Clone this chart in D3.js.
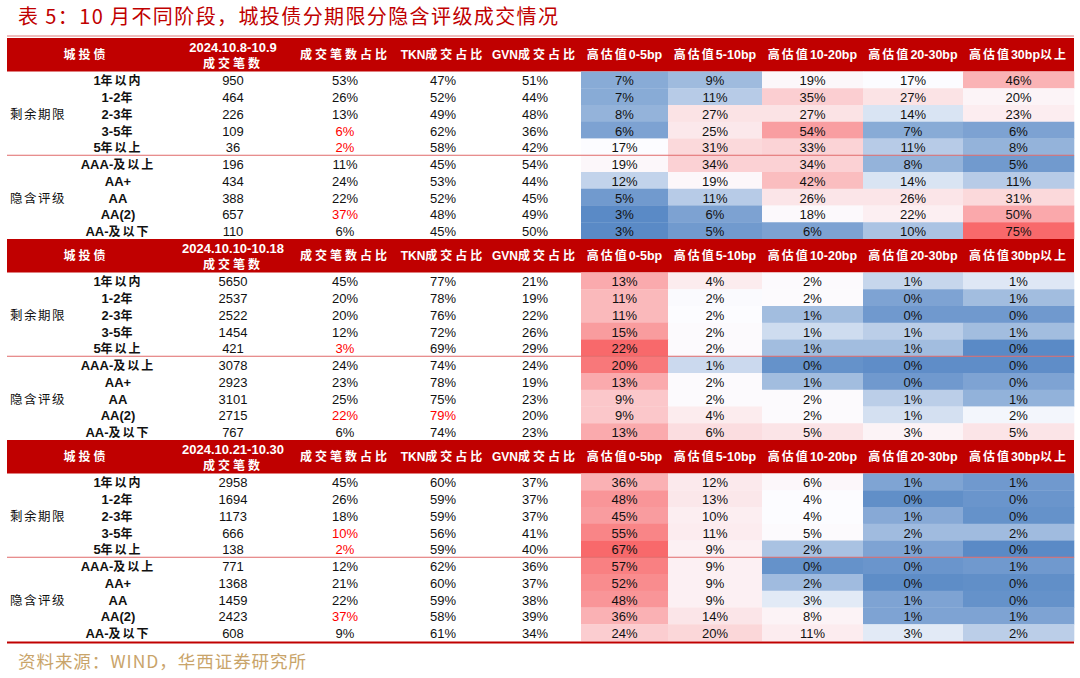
<!DOCTYPE html>
<html><head><meta charset="utf-8">
<script src="https://cdn.jsdelivr.net/npm/d3@7"></script>
<style>body{margin:0;background:#fff}</style>
</head><body><svg id="c" width="1080" height="678"></svg>
<script>
// ---------- DATA ----------
const title = "表 5：10 月不同阶段，城投债分期限分隐含评级成交情况";
const source = "资料来源：WIND，华西证券研究所";
const periods = ["2024.10.8-10.9", "2024.10.10-10.18", "2024.10.21-10.30"];
const groups = ["剩余期限", "隐含评级"];
const rowLabels = ["1年以内", "1-2年", "2-3年", "3-5年", "5年以上", "AAA-及以上", "AA+", "AA", "AA(2)", "AA-及以下"];
const plainHeaders = ["城投债", "成交笔数", "成交笔数占比", "TKN成交占比", "GVN成交占比"];
const heatHeaders = ["高估值0-5bp", "高估值5-10bp", "高估值10-20bp", "高估值20-30bp", "高估值30bp以上"];

const counts1 = [950, 464, 226, 109, 36, 196, 434, 388, 657, 110];
const share1 = [53, 26, 13, 6, 2, 11, 24, 22, 37, 6];
const tkn1 = [47, 52, 49, 62, 58, 45, 53, 52, 48, 45];
const gvn1 = [51, 44, 48, 36, 42, 54, 44, 45, 49, 50];
// heat values in % (unrounded where the cell shade shows the value more precisely)
const heat1 = [
  [7, 9, 19, 17, 46], [7, 11, 35, 27, 20], [8, 27, 27, 14, 23], [6, 25, 54, 7, 6], [17, 31, 33, 11, 8],
  [19, 34, 34, 8, 5], [12, 19, 42, 14, 11], [5, 11, 26, 26, 31], [3, 6, 18, 22, 50], [3, 5, 6, 10, 75]
];
const counts2 = [5650, 2537, 2522, 1454, 421, 3078, 2923, 3101, 2715, 767];
const share2 = [45, 20, 20, 12, 3, 24, 23, 25, 22, 6];
const tkn2 = [77, 78, 76, 72, 69, 74, 78, 75, 79, 74];
const gvn2 = [21, 19, 22, 26, 29, 24, 19, 23, 20, 23];
const heat2 = [
  [13, 4, 2, 1.15, 1.41], [11, 1.7, 2, 0.38, 0.77], [11, 1.75, 0.77, 0.23, 0.23], [15, 2, 1.24, 1.03, 0.77], [22, 2, 0.77, 0.77, 0],
  [20, 1.2, 0.12, 0.05, 0.05], [13, 2, 0.77, 0.23, 0.38], [9, 2, 2, 1.03, 0.6], [9, 4, 2, 1.3, 1.63], [13, 6, 5, 3, 5]
];
const counts3 = [2958, 1694, 1173, 666, 138, 771, 1368, 1459, 2423, 608];
const share3 = [45, 26, 18, 10, 2, 12, 21, 22, 37, 9];
const tkn3 = [60, 59, 59, 56, 59, 62, 60, 59, 58, 61];
const gvn3 = [37, 37, 37, 41, 40, 36, 37, 38, 39, 34];
const heat3 = [
  [36, 12, 6, 0.91, 0.54], [48, 13, 4, 0.17, 0.4], [45, 10, 4, 1.1, 0.27], [55, 11, 5, 1.73, 1.73], [67, 9, 1.95, 0.89, 0],
  [57, 9, 0.27, 0.4, 0.54], [52, 9, 1.73, 0.1, 0.17], [48, 9, 3.36, 0.89, 0.27], [36, 14, 8, 0.89, 0.89], [24, 20, 11, 3.36, 2.4]
];
// highlighted (red) cells: [column, row]
const highlights1 = [["share", 3], ["share", 4], ["share", 8]];
const highlights2 = [["share", 4], ["share", 8], ["tkn", 8]];
const highlights3 = [["share", 3], ["share", 4], ["share", 8]];

const blocks = [
  {period: periods[0], counts: counts1, share: share1, tkn: tkn1, gvn: gvn1, heat: heat1, hl: highlights1},
  {period: periods[1], counts: counts2, share: share2, tkn: tkn2, gvn: gvn2, heat: heat2, hl: highlights2},
  {period: periods[2], counts: counts3, share: share3, tkn: tkn3, gvn: gvn3, heat: heat3, hl: highlights3}
];

// ---------- LAYOUT ----------
const svg = d3.select("#c");
const LAT = "'Liberation Sans', Arial, sans-serif";
const CJK = "'Noto Sans CJK SC', 'Noto Sans CJK JP', sans-serif";
const RED = "#c00000";
const tableL = 7, tableR = 1074;
const headerH = 33.5, rowH = 16.75;
const blockTop = d3.scaleLinear().domain([0, 1]).range([38, 239]);
const colX = d3.scaleOrdinal(["label", "counts", "share", "tkn", "gvn"], [118, 233, 345, 443, 535]);
const heatEdges = [581, 668, 762, 863, 963, 1074];
const heatX = d3.scaleOrdinal(d3.range(5), heatEdges.slice(0, 5));
const heatW = i => heatEdges[i + 1] - heatEdges[i];
const pct = d3.format(".0%");
const TY = 5.6; // text baseline offset from row middle

function isCJK(s) { return /[\u2E80-\u9FFF\uFF00-\uFFEF\u3000-\u303F]/.test(s); }
function rich(sel, str, o) {
  const runs = str.match(/[\u2E80-\u9FFF\uFF00-\uFFEF\u3000-\u303F]+|[^\u2E80-\u9FFF\uFF00-\uFFEF\u3000-\u303F]+/g);
  runs.forEach((r) => {
    const c = isCJK(r);
    sel.append("tspan").text(r)
      .attr("font-family", c ? CJK : LAT)
      .attr("font-weight", c ? (o.cw || "normal") : (o.lw || "bold"))
      .attr("font-size", c ? o.cs : o.ls)
      .attr("letter-spacing", c ? o.sp : 0);
  });
  return sel;
}

// title
svg.append("text").attr("x", 18).attr("y", 24).attr("fill", RED)
  .attr("font-family", CJK).attr("font-size", 20)
  .attr("textLength", 540).attr("lengthAdjust", "spacing")
  .text(title);

// top line
svg.append("line").attr("x1", tableL).attr("x2", tableR).attr("y1", 36).attr("y2", 36)
  .attr("stroke", "#e07a7a").attr("stroke-width", 1);

blocks.forEach((b, bi) => {
  const top = blockTop(bi);
  const g = svg.append("g");
  const y = d3.scaleBand().domain(d3.range(10)).range([top + headerH, top + headerH + 10 * rowH]);
  const flat = b.heat.flat();
  const color = d3.scaleLinear()
    .domain([d3.min(flat), d3.median(flat), d3.max(flat)])
    .range(["#5A8AC6", "#FCFCFF", "#F8696B"])
    .interpolate(d3.interpolateRgb);

  // header
  g.append("rect").attr("x", tableL).attr("y", top).attr("width", tableR - tableL).attr("height", headerH).attr("fill", RED);
  const hy = top + headerH / 2 + 4.5;
  const hdrOpts = {cs: 12, ls: 12, sp: 3, cw: "bold", lw: "bold"};
  const hx = [86, null, 345, 443, 535];
  plainHeaders.forEach((h, i) => {
    if (i === 1) return;
    rich(g.append("text").attr("x", hx[i]).attr("y", hy).attr("text-anchor", "middle").attr("fill", "#fff"), h, hdrOpts);
  });
  rich(g.append("text").attr("x", colX("counts")).attr("y", top + 13.5).attr("text-anchor", "middle").attr("fill", "#fff"), b.period, {cs: 12, ls: 13, sp: 3, cw: "bold"});
  rich(g.append("text").attr("x", colX("counts")).attr("y", top + 29.5).attr("text-anchor", "middle").attr("fill", "#fff"), plainHeaders[1], hdrOpts);
  heatHeaders.forEach((h, i) => {
    rich(g.append("text").attr("x", heatX(i) + heatW(i) / 2).attr("y", hy).attr("text-anchor", "middle").attr("fill", "#fff"), h, {cs: 12, ls: 12.5, sp: 2, cw: "bold"});
  });

  // heat cells
  b.heat.forEach((row, r) => {
    row.forEach((v, c) => {
      g.append("rect").attr("x", heatX(c)).attr("y", y(r)).attr("width", heatW(c) + 0.3).attr("height", y.bandwidth() + 0.3)
        .attr("fill", color(v));
      g.append("text").attr("x", heatX(c) + heatW(c) / 2).attr("y", y(r) + rowH / 2 + TY)
        .attr("text-anchor", "middle").attr("font-family", LAT).attr("font-size", 13).attr("fill", "#111")
        .text(pct(v / 100));
    });
  });

  // row labels & values
  rowLabels.forEach((lab, r) => {
    const ty = y(r) + rowH / 2 + TY;
    rich(g.append("text").attr("x", colX("label")).attr("y", ty).attr("text-anchor", "middle").attr("fill", "#111"), lab, {cs: 12, ls: 13, sp: 2, cw: "bold", lw: "bold"});
    const isHL = key => b.hl.some(h => h[0] === key && h[1] === r);
    g.append("text").attr("x", colX("counts")).attr("y", ty).attr("text-anchor", "middle")
      .attr("font-family", LAT).attr("font-size", 13).attr("fill", "#111").text(b.counts[r]);
    ["share", "tkn", "gvn"].forEach(key => {
      g.append("text").attr("x", colX(key)).attr("y", ty).attr("text-anchor", "middle")
        .attr("font-family", LAT).attr("font-size", 13).attr("fill", isHL(key) ? "#ff0000" : "#111")
        .text(pct(b[key][r] / 100));
    });
  });

  // group labels
  groups.forEach((gl, k) => {
    const ty = y(k * 5 + 2) + rowH / 2 + TY;
    g.append("text").attr("x", 10).attr("y", ty).attr("font-family", CJK).attr("font-size", 12.5)
      .attr("letter-spacing", 1.5).attr("fill", "#111").text(gl);
  });

  // separator between groups
  g.append("line").attr("x1", tableL).attr("x2", tableR).attr("y1", y(5)).attr("y2", y(5))
    .attr("stroke", "#e06a6a").attr("stroke-width", 1);
});

// bottom line
const bottomY = blockTop(2) + headerH + 10 * rowH + 1.5;
svg.append("line").attr("x1", tableL).attr("x2", tableR).attr("y1", bottomY).attr("y2", bottomY)
  .attr("stroke", RED).attr("stroke-width", 2);

// source
svg.append("text").attr("x", 18).attr("y", 668).attr("fill", "#c9a46a")
  .attr("font-family", CJK).attr("font-size", 17.5)
  .attr("textLength", 288).attr("lengthAdjust", "spacing")
  .text(source);
</script></body></html>
